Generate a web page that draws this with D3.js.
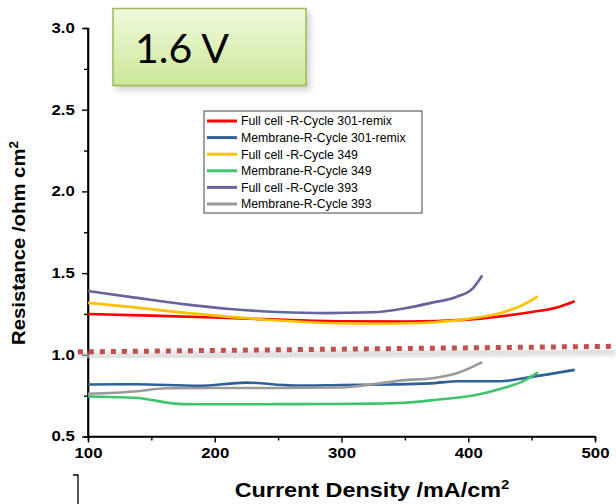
<!DOCTYPE html>
<html>
<head>
<meta charset="utf-8">
<script src="https://cdn.jsdelivr.net/npm/d3@7"></script>
<style>
  body { margin: 0; background: #fff; }
  svg { display: block; }
  .tick text { font-family: "Liberation Sans", Arial, sans-serif; font-weight: bold; font-size: 14px; fill: #000; }
</style>
</head>
<body>
<script>
// series: current density (mA/cm2) and resistance (ohm cm2)
const fullCell301 = [[100,1.25],[150,1.24],[200,1.228],[250,1.215],[300,1.205],[350,1.203],[400,1.215],[425,1.235],[450,1.262],[470,1.29],[484,1.328]];
const membrane301 = [[100,0.818],[137,0.82],[187,0.81],[225,0.83],[262,0.812],[300,0.815],[337,0.818],[370,0.825],[392,0.838],[425,0.838],[450,0.865],[484,0.908]];
const fullCell349 = [[100,1.318],[137,1.29],[175,1.258],[212,1.232],[250,1.21],[287,1.195],[325,1.19],[362,1.195],[400,1.22],[425,1.255],[443,1.305],[455,1.357]];
const membrane349 = [[100,0.745],[137,0.737],[175,0.698],[212,0.697],[250,0.698],[287,0.699],[325,0.701],[350,0.707],[375,0.725],[407,0.755],[427,0.795],[443,0.837],[455,0.892]];
const fullCell393 = [[100,1.39],[137,1.35],[175,1.31],[212,1.28],[250,1.262],[287,1.255],[325,1.26],[350,1.285],[372,1.32],[391,1.355],[404,1.41],[411,1.485]];
const membrane393 = [[100,0.762],[137,0.775],[162,0.795],[200,0.797],[250,0.797],[300,0.8],[325,0.82],[350,0.845],[372,0.857],[391,0.887],[411,0.955]];
const refLine = [[92,1.018],[517,1.052]];   // dotted guide line near 1.0

const seriesNames = ["Full cell -R-Cycle 301-remix","Membrane-R-Cycle 301-remix","Full cell -R-Cycle 349","Membrane-R-Cycle 349","Full cell -R-Cycle 393","Membrane-R-Cycle 393"];
const seriesData = [fullCell301, membrane301, fullCell349, membrane349, fullCell393, membrane393];
const colors = ["#ff0000","#2f6096","#ffc000","#3dc46c","#65659e","#9a9a9a"];

const xMajor = [100,200,300,400,500];
const xMinor = [150,250,350,450];
const yMajor = [0.5,1.0,1.5,2.0,2.5,3.0];
const yMinor = [0.75,1.25,1.75,2.25,2.75];
const titleText = "1.6 V";

const W = 616, H = 504;
const svg = d3.select("body").append("svg").attr("width", W).attr("height", H);

const x = d3.scaleLinear().domain([100, 500]).range([88, 595]);
const y = d3.scaleLinear().domain([0.5, 3.0]).range([436.5, 28]);

const defs = svg.append("defs");
const grad = defs.append("linearGradient").attr("id", "boxfill").attr("x1", 0).attr("y1", 0).attr("x2", 0).attr("y2", 1);
grad.append("stop").attr("offset", "0%").attr("stop-color", "#f1f9dd");
grad.append("stop").attr("offset", "100%").attr("stop-color", "#cbe898");
defs.append("filter").attr("id", "blur").append("feGaussianBlur").attr("stdDeviation", 2.5);
defs.append("filter").attr("id", "blur2").append("feGaussianBlur").attr("stdDeviation", 3);

// axes (labels in the picture are a bit wide, so they get stretched)
const xAxis = svg.append("g").attr("transform", `translate(0,${y(0.5)})`)
  .call(d3.axisBottom(x).tickValues(xMajor).tickSize(6).tickPadding(6).tickFormat(d3.format("d")));
svg.append("g").attr("transform", `translate(0,${y(0.5)})`)
  .call(d3.axisBottom(x).tickValues(xMinor).tickSize(4).tickFormat(""));
const yAxis = svg.append("g").attr("transform", `translate(${x(100)},0)`)
  .call(d3.axisLeft(y).tickValues(yMajor).tickSize(6).tickPadding(5).tickFormat(d3.format(".1f")));
svg.append("g").attr("transform", `translate(${x(100)},0)`)
  .call(d3.axisLeft(y).tickValues(yMinor).tickSize(4).tickFormat(""));
svg.selectAll(".domain").attr("stroke", "#000").attr("stroke-width", 1.6);
svg.selectAll(".tick line").attr("stroke", "#000").attr("stroke-width", 1.4);
svg.selectAll(".tick text").attr("transform", "scale(1.2,1)");
yAxis.selectAll(".tick text").attr("x", -11);
xAxis.select(".domain").attr("d", `M${x(100)},0H${x(500)}`);
yAxis.select(".domain").attr("d", `M0,${y(3.0)}V${y(0.5)}`);

// dotted reference line with soft shadow
const line = d3.line().x(d => x(d[0])).y(d => y(d[1]));
svg.append("path").datum(refLine)
  .attr("d", line).attr("transform", "translate(0,5)")
  .attr("fill", "none").attr("stroke", "#cfcfcf").attr("stroke-width", 8)
  .attr("filter", "url(#blur)").attr("opacity", 0.7);
svg.append("path").datum(refLine)
  .attr("d", line)
  .attr("fill", "none").attr("stroke", "#c0504d").attr("stroke-width", 5)
  .attr("stroke-dasharray", "5,6");

// curves
const curve = d3.line().x(d => x(d[0])).y(d => y(d[1])).curve(d3.curveMonotoneX);
svg.append("g").selectAll("path").data(seriesData).join("path")
  .attr("d", curve)
  .attr("fill", "none")
  .attr("stroke", (d, i) => colors[i])
  .attr("stroke-width", 2.6);

// legend
const lg = svg.append("g").attr("transform", "translate(204,111)");
lg.append("rect").attr("width", 218).attr("height", 102)
  .attr("fill", "#fff").attr("stroke", "#444").attr("stroke-width", 1);
const rows = lg.selectAll("g").data(seriesNames).join("g")
  .attr("transform", (d, i) => `translate(0,${10 + i * 16.6})`);
rows.append("line").attr("x1", 3).attr("x2", 33)
  .attr("stroke", (d, i) => colors[i]).attr("stroke-width", 3);
rows.append("text").attr("x", 37).attr("dy", "0.35em")
  .style("font-family", "'Liberation Sans', Arial, sans-serif").style("font-size", "12.3px")
  .text(d => d);

// title box
svg.append("rect").attr("x", 116).attr("y", 12).attr("width", 194).attr("height", 78)
  .attr("fill", "#bbb").attr("filter", "url(#blur2)").attr("opacity", 0.7);
svg.append("rect").attr("x", 113).attr("y", 8.5).attr("width", 193).attr("height", 77)
  .attr("fill", "url(#boxfill)").attr("stroke", "#9bbb59").attr("stroke-width", 1.5);
svg.append("text").attr("x", 135).attr("y", 63)
  .style("font-family", "Lato, sans-serif").style("font-size", "41px").attr("fill", "#000")
  .text(titleText);

// axis titles
const yl = svg.append("text").attr("transform", "translate(25,243) rotate(-90) scale(1.13,1)")
  .attr("text-anchor", "middle")
  .style("font-family", "'Liberation Sans', Arial, sans-serif").style("font-weight", "bold").style("font-size", "18px");
yl.append("tspan").text("Resistance /ohm cm");
yl.append("tspan").attr("dy", -7).style("font-size", "12px").text("2");

const xl = svg.append("text").attr("transform", "translate(372,497) scale(1.2,1)")
  .attr("text-anchor", "middle")
  .style("font-family", "'Liberation Sans', Arial, sans-serif").style("font-weight", "bold").style("font-size", "19.5px");
xl.append("tspan").text("Current Density /mA/cm");
xl.append("tspan").attr("dy", -8).style("font-size", "12.5px").text("2");

// small bracket fragment at bottom left
svg.append("path").attr("d", "M73,475H78V504").attr("fill", "none").attr("stroke", "#000").attr("stroke-width", 1.3);
</script>
</body>
</html>
